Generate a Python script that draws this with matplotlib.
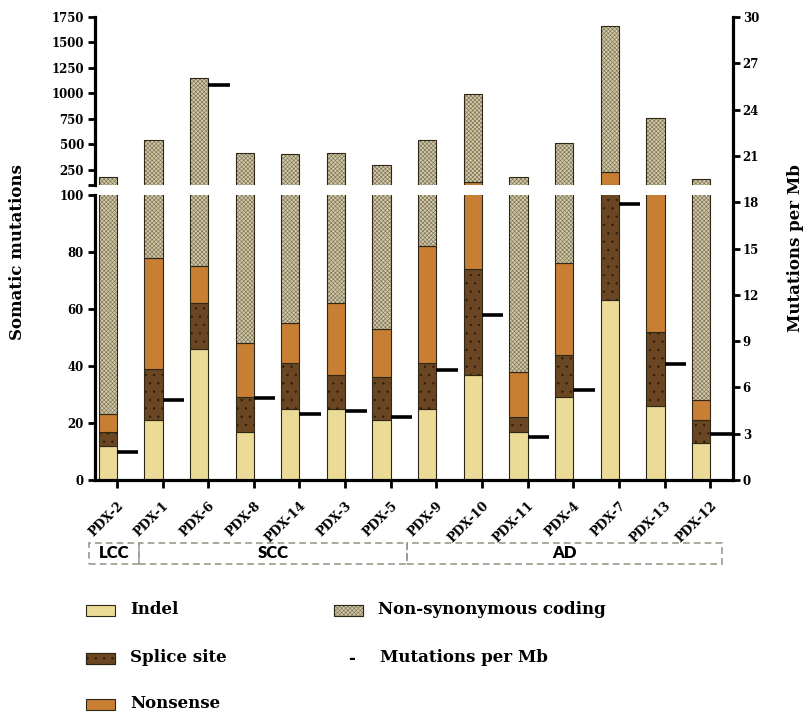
import numpy as np
import matplotlib
matplotlib.use("Agg")
import matplotlib.pyplot as plt
from matplotlib.patches import Rectangle
import matplotlib.transforms as mtransforms

# mutation counts per sample, split by type
samples = ['PDX-2', 'PDX-1', 'PDX-6', 'PDX-8', 'PDX-14', 'PDX-3', 'PDX-5',
           'PDX-9', 'PDX-10', 'PDX-11', 'PDX-4', 'PDX-7', 'PDX-13', 'PDX-12']
indel = [12, 21, 46, 17, 25, 25, 21, 25, 37, 17, 29, 63, 26, 13]
splice = [5, 18, 16, 12, 16, 12, 15, 16, 37, 5, 15, 38, 26, 8]
nonsense = [6, 39, 13, 19, 14, 25, 17, 41, 56, 16, 32, 124, 49, 7]
nonsyn = [157, 462, 1075, 367, 350, 348, 247, 458, 860, 142, 439, 1435, 659, 132]
per_mb = [1.8, 5.2, 25.6, 5.3, 4.3, 4.5, 4.1, 7.1, 10.7, 2.8, 5.8, 17.9, 7.5, 3.0]

groups = ['LCC', 'SCC', 'AD']
group_edges = [-0.62, 0.48, 6.36, 13.26]

top_ticks = [100, 250, 500, 750, 1000, 1250, 1500, 1750]
top_labels = ['', '250', '500', '750', '1000', '1250', '1500', '1750']
bot_ticks = [0, 20, 40, 60, 80, 100]
mb_ticks = [0, 3, 6, 9, 12, 15, 18, 21, 24, 27, 30]

serif = 'DejaVu Serif'
plt.rcParams['font.family'] = serif
plt.rcParams['font.weight'] = 'bold'
plt.rcParams['hatch.linewidth'] = 0.45

W, H = 809, 713
fig = plt.figure(figsize=(W / 100, H / 100), dpi=100)


def box(x0, y0, x1, y1):
    # pixel box (from top-left) -> figure rect
    return [x0 / W, 1 - y1 / H, (x1 - x0) / W, (y1 - y0) / H]


ax_top = fig.add_axes(box(95, 17, 733, 185))
ax_bot = fig.add_axes(box(95, 195, 733, 480))
ax_r = fig.add_axes(box(95, 17, 733, 480))

x = np.arange(len(samples))
xlim = (-0.48, 13.5)
bw = 0.4
edge = '#2e2616'

segments = [
    (indel, '#ecdb97', None, None),
    (splice, '#6a4722', '#2e1c0a', '..'),
    (nonsense, '#c87e33', None, None),
    (nonsyn, '#d4caa2', '#7a7260', 'xxxxxxxx'),
]

for ax in (ax_top, ax_bot):
    bottom = np.zeros(len(samples))
    for vals, face, hcol, hatch in segments:
        vals = np.array(vals, dtype=float)
        if hatch:
            ax.bar(x - bw, vals, bw, bottom=bottom, align='edge', color=face,
                   edgecolor=hcol, hatch=hatch, linewidth=0)
            ax.bar(x - bw, vals, bw, bottom=bottom, align='edge', fill=False,
                   edgecolor=edge, linewidth=0.8)
        else:
            ax.bar(x - bw, vals, bw, bottom=bottom, align='edge', color=face,
                   edgecolor=edge, linewidth=0.8)
        bottom += vals
    ax.set_xlim(*xlim)
    ax.patch.set_visible(False)
    for s in ('top', 'right'):
        ax.spines[s].set_visible(False)
    ax.spines['left'].set_linewidth(2.3)
    ax.spines['bottom'].set_linewidth(2.3)
    ax.tick_params(axis='y', direction='out', length=5, width=2,
                   labelsize=8.5, pad=3)

ax_top.set_ylim(100, 1750)
ax_top.set_yticks(top_ticks)
ax_top.set_yticklabels(top_labels)
ax_top.spines['bottom'].set_visible(False)
ax_top.tick_params(axis='x', bottom=False, labelbottom=False)

ax_bot.set_ylim(0, 100)
ax_bot.set_yticks(bot_ticks)
ax_bot.set_xticks(x)
ax_bot.set_xticklabels(samples, rotation=45, ha='right', va='top',
                       fontsize=9, rotation_mode='anchor')
ax_bot.tick_params(axis='x', direction='out', length=6, width=2, pad=8)

# mutations per Mb on the right axis
ax_r.set_xlim(*xlim)
ax_r.set_ylim(0, 30)
ax_r.hlines(per_mb, x, x + 0.47, color='black', linewidth=2.6)
ax_r.patch.set_visible(False)
for s in ('top', 'left', 'bottom'):
    ax_r.spines[s].set_visible(False)
ax_r.spines['right'].set_linewidth(2.3)
ax_r.yaxis.tick_right()
ax_r.set_yticks(mb_ticks)
ax_r.tick_params(axis='y', direction='out', length=5, width=2,
                 labelsize=8.5, pad=2)
ax_r.tick_params(axis='x', bottom=False, labelbottom=False)

fig.text(18 / W, 1 - 252 / H, 'Somatic mutations', rotation=90,
         ha='center', va='center', fontsize=12)
fig.text(795 / W, 1 - 248 / H, 'Mutations per Mb', rotation=90,
         ha='center', va='center', fontsize=12)

# histology groups below the sample labels
trans = mtransforms.blended_transform_factory(ax_bot.transData, fig.transFigure)
y0, y1 = 1 - 564 / H, 1 - 543 / H
for name, left, right in zip(groups, group_edges[:-1], group_edges[1:]):
    fig.add_artist(Rectangle((left, y0), right - left, y1 - y0, transform=trans,
                             fill=False, edgecolor='#9a998a', linewidth=1.2,
                             linestyle=(0, (4, 2.5)), clip_on=False))
    fig.text((left + right) / 2, (y0 + y1) / 2, name, transform=trans,
             ha='center', va='center', fontsize=12, family='Lato',
             weight='heavy')

# legend
legend_rows = [
    ('Indel', '#ecdb97', None, None, 86, 610),
    ('Splice site', '#6a4722', '#2e1c0a', '..', 86, 658),
    ('Nonsense', '#c87e33', None, None, 86, 704),
    ('Non-synonymous coding', '#d4caa2', '#7a7260', 'xxxxxxxx', 334, 610),
]
for label, face, hcol, hatch, px, py in legend_rows:
    r = box(px, py - 5, px + 29, py + 6)
    fig.add_artist(Rectangle((r[0], r[1]), r[2], r[3], transform=fig.transFigure,
                             facecolor=face, edgecolor=hcol if hcol else edge,
                             hatch=hatch, linewidth=0.8))
    if hatch:
        fig.add_artist(Rectangle((r[0], r[1]), r[2], r[3],
                                 transform=fig.transFigure, fill=False,
                                 edgecolor=edge, linewidth=0.8))
    fig.text((px + 44) / W, 1 - py / H, label, ha='left', va='center',
             fontsize=12)

fig.text(352 / W, 1 - 658 / H, '-', ha='center', va='center', fontsize=12)
fig.text(380 / W, 1 - 658 / H, 'Mutations per Mb', ha='left', va='center',
         fontsize=12)

fig.savefig('out.png', dpi=100, facecolor='white')
